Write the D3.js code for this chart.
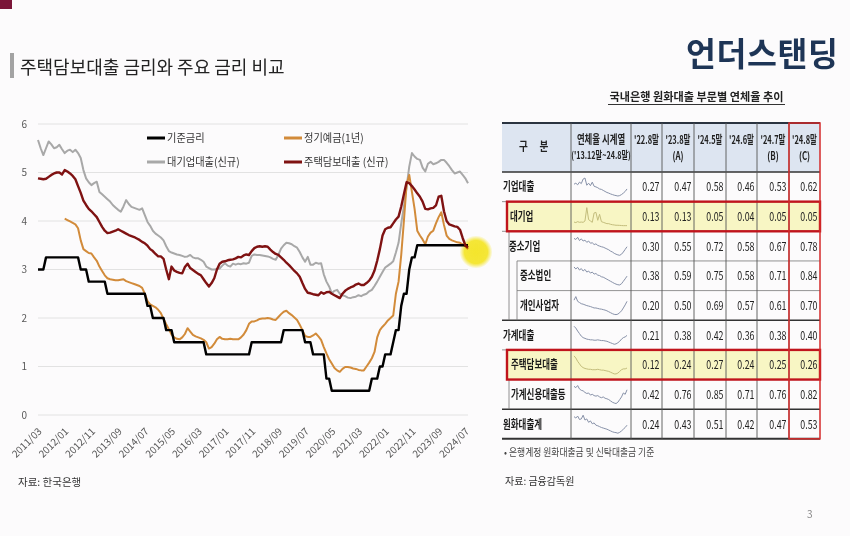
<!DOCTYPE html>
<html><head><meta charset="utf-8">
<script src="https://cdn.jsdelivr.net/npm/d3@7"></script>
<style>
html,body{margin:0;padding:0;background:#fcfbfc;}
svg{display:block;font-family:"Noto Sans CJK KR","Noto Sans",sans-serif;}
</style></head><body>
<svg id="c" width="850" height="536"></svg>
<script>
// ---------------- DATA ----------------
const months = [];
for (let yr = 2011; yr <= 2024; yr++) for (let m = 1; m <= 12; m++) {
  if (yr === 2011 && m < 3) continue;
  if (yr === 2024 && m > 8) break;
  months.push(yr + "/" + String(m).padStart(2, "0"));
}
const xTickLabels = ["2011/03","2012/01","2012/11","2013/09","2014/07","2015/05","2016/03","2017/01","2017/11","2018/09","2019/07","2020/05","2021/03","2022/01","2022/11","2023/09","2024/07"];
const yTicks = [0,1,2,3,4,5,6];
const seriesNames = ["기준금리","정기예금(1년)","대기업대출(신규)","주택담보대출 (신규)"];

const baseRate = [3.00,3.00,3.00,3.25,3.25,3.25,3.25,3.25,3.25,3.25,
 3.25,3.25,3.25,3.25,3.25,3.25,3.00,3.00,3.00,2.75,
 2.75,2.75,2.75,2.75,2.75,2.75,2.50,2.50,2.50,2.50,
 2.50,2.50,2.50,2.50,2.50,2.50,2.50,2.50,2.50,2.50,
 2.50,2.25,2.25,2.00,2.00,2.00,2.00,2.00,1.75,1.75,
 1.75,1.50,1.50,1.50,1.50,1.50,1.50,1.50,1.50,1.50,
 1.50,1.50,1.50,1.25,1.25,1.25,1.25,1.25,1.25,1.25,
 1.25,1.25,1.25,1.25,1.25,1.25,1.25,1.25,1.25,1.25,
 1.50,1.50,1.50,1.50,1.50,1.50,1.50,1.50,1.50,1.50,
 1.50,1.50,1.75,1.75,1.75,1.75,1.75,1.75,1.75,1.75,
 1.50,1.50,1.50,1.25,1.25,1.25,1.25,1.25,0.75,0.75,
 0.50,0.50,0.50,0.50,0.50,0.50,0.50,0.50,0.50,0.50,
 0.50,0.50,0.50,0.50,0.50,0.75,0.75,0.75,1.00,1.00,
 1.25,1.25,1.25,1.50,1.75,1.75,2.25,2.50,2.50,3.00,
 3.25,3.25,3.50,3.50,3.50,3.50,3.50,3.50,3.50,3.50,
 3.50,3.50,3.50,3.50,3.50,3.50,3.50,3.50,3.50,3.50,
 3.50,3.50];

const deposit1y = [null,null,null,null,null,null,null,null,null,null,
 4.05,4.02,3.99,3.96,3.93,3.85,3.6,3.42,3.38,3.34,
 3.33,3.25,3.18,3.06,2.97,2.88,2.82,2.8,2.79,2.78,
 2.78,2.79,2.8,2.76,2.74,2.72,2.7,2.68,2.66,2.62,
 2.5,2.35,2.28,2.25,2.22,2.17,2.1,1.98,1.87,1.77,
 1.66,1.6,1.57,1.56,1.6,1.67,1.79,1.72,1.65,1.62,
 1.6,1.58,1.55,1.5,1.37,1.4,1.47,1.56,1.61,1.57,
 1.56,1.56,1.57,1.56,1.56,1.56,1.6,1.66,1.75,1.88,
 1.93,1.93,1.95,1.98,1.99,1.99,2.0,1.99,1.97,1.96,
 2.02,2.08,2.13,2.15,2.1,2.06,2.01,1.96,1.86,1.75,
 1.63,1.61,1.61,1.64,1.68,1.62,1.55,1.4,1.27,1.15,
 1.06,0.97,0.92,0.89,0.95,0.99,0.99,0.98,0.96,0.95,
 0.93,0.92,0.92,1.0,1.08,1.17,1.3,1.6,1.75,1.82,
 1.88,1.95,2.0,2.05,2.5,2.75,3.3,4.0,4.75,4.95,
 4.6,4.25,3.8,3.7,3.62,3.52,3.68,3.76,3.8,3.95,
 4.08,4.18,3.92,3.7,3.63,3.6,3.58,3.56,3.55,3.52,
 3.48,3.42];

const largeCorpLoan = [5.67,5.5,5.36,5.5,5.64,5.58,5.5,5.52,5.57,5.48,
 5.4,5.45,5.47,5.42,5.47,5.4,5.3,5.05,4.88,4.8,
 4.74,4.78,4.81,4.6,4.55,4.5,4.45,4.4,4.33,4.28,
 4.23,4.19,4.3,4.43,4.35,4.29,4.27,4.25,4.23,4.26,
 4.12,3.98,3.9,3.8,3.74,3.7,3.66,3.6,3.48,3.38,
 3.35,3.33,3.31,3.3,3.28,3.26,3.27,3.3,3.25,3.23,
 3.23,3.2,3.16,3.06,3.03,3.0,3.0,3.01,3.02,3.08,
 3.13,3.08,3.06,3.12,3.1,3.12,3.11,3.13,3.12,3.14,
 3.28,3.31,3.3,3.3,3.29,3.28,3.27,3.25,3.22,3.2,
 3.3,3.43,3.5,3.55,3.54,3.52,3.48,3.45,3.36,3.25,
 3.16,3.26,3.1,3.1,3.14,3.12,3.13,2.9,2.75,2.65,
 2.51,2.56,2.58,2.5,2.47,2.45,2.42,2.41,2.43,2.44,
 2.47,2.45,2.48,2.5,2.55,2.58,2.66,2.75,2.85,2.95,
 3.04,3.08,3.12,3.17,3.35,3.55,3.95,4.3,4.7,5.12,
 5.4,5.33,5.28,5.26,5.1,5.02,5.18,5.22,5.17,5.19,
 5.22,5.26,5.26,5.2,5.13,5.05,4.98,5.0,5.02,4.95,
 4.88,4.78];

const mortgageLoan = [4.88,4.87,4.86,4.87,4.91,4.95,4.98,5.0,5.0,4.96,
 5.05,5.02,4.98,4.93,4.86,4.72,4.58,4.42,4.33,4.25,
 4.2,4.14,4.08,3.98,3.88,3.8,3.75,3.76,3.78,3.8,
 3.83,3.8,3.77,3.74,3.71,3.69,3.67,3.64,3.61,3.57,
 3.54,3.49,3.42,3.38,3.32,3.27,3.27,3.22,3.0,2.8,
 3.06,2.98,2.95,2.93,2.92,3.05,3.12,3.03,2.99,2.95,
 2.91,2.88,2.8,2.72,2.65,2.72,2.82,3.0,3.12,3.16,
 3.17,3.19,3.2,3.21,3.23,3.26,3.25,3.29,3.31,3.3,
 3.38,3.44,3.47,3.48,3.47,3.48,3.47,3.41,3.36,3.32,
 3.3,3.25,3.2,3.14,3.09,3.03,2.97,2.92,2.85,2.72,
 2.6,2.52,2.51,2.49,2.48,2.47,2.53,2.5,2.53,2.54,
 2.5,2.47,2.44,2.41,2.5,2.56,2.6,2.63,2.65,2.69,
 2.71,2.68,2.68,2.72,2.77,2.85,2.98,3.18,3.42,3.7,
 3.83,3.86,3.87,3.95,4.03,4.09,4.3,4.55,4.8,4.78,
 4.72,4.65,4.57,4.5,4.4,4.25,4.24,4.26,4.27,4.32,
 4.5,4.52,4.2,4.0,3.93,3.91,3.89,3.88,3.82,3.65,
 3.5,3.45];

// table data
const tableRows = ["기업대출","대기업","중소기업","중소법인","개인사업자","가계대출","주택담보대출","가계신용대출등","원화대출계"];
const periods = ["'22.8말","'23.8말","'24.5말","'24.6말","'24.7말","'24.8말"];
const periodTags = ["","(A)","","","(B)","(C)"];
const v22_8 = [0.27,0.13,0.30,0.38,0.20,0.21,0.12,0.42,0.24];
const v23_8 = [0.47,0.13,0.55,0.59,0.50,0.38,0.24,0.76,0.43];
const v24_5 = [0.58,0.05,0.72,0.75,0.69,0.42,0.27,0.85,0.51];
const v24_6 = [0.46,0.04,0.58,0.58,0.57,0.36,0.24,0.71,0.42];
const v24_7 = [0.53,0.05,0.67,0.71,0.61,0.38,0.25,0.76,0.47];
const v24_8 = [0.62,0.05,0.78,0.84,0.70,0.40,0.26,0.82,0.53];
const highlightRows = ["대기업","주택담보대출"];

// sparkline data (delinquency series '13.12~'24.8, sampled)
const sparkCorp   = [0.85,0.9,0.82,0.95,0.88,1.1,1.15,0.8,0.9,0.78,0.95,0.75,0.72,0.68,0.62,0.6,0.55,0.5,0.45,0.42,0.38,0.35,0.32,0.3,0.28,0.3,0.35,0.42,0.5,0.62];
const sparkLarge  = [0.32,0.28,0.35,0.3,0.32,0.3,0.4,1.4,0.5,0.4,0.3,1.0,1.05,0.45,0.9,0.35,0.3,0.25,0.2,0.2,0.15,0.12,0.1,0.08,0.08,0.07,0.06,0.05,0.05,0.05];
const sparkSME    = [1.1,1.05,1.15,1.0,1.08,0.98,1.02,0.92,0.98,0.88,0.9,0.82,0.85,0.78,0.75,0.72,0.7,0.66,0.62,0.58,0.52,0.48,0.42,0.38,0.35,0.33,0.38,0.48,0.6,0.72];
const sparkSMEC   = [1.2,1.1,1.18,1.05,1.12,1.0,1.08,0.95,1.0,0.9,0.95,0.85,0.88,0.8,0.78,0.72,0.7,0.65,0.6,0.55,0.5,0.45,0.4,0.36,0.33,0.32,0.38,0.5,0.62,0.75];
const sparkSole   = [0.75,0.9,0.7,0.65,0.6,0.58,0.55,0.52,0.5,0.48,0.45,0.42,0.42,0.4,0.38,0.37,0.35,0.33,0.3,0.26,0.22,0.18,0.15,0.14,0.16,0.22,0.3,0.42,0.55,0.7];
const sparkHH     = [0.65,0.6,0.52,0.45,0.38,0.34,0.32,0.3,0.29,0.28,0.28,0.27,0.27,0.28,0.27,0.26,0.26,0.25,0.24,0.22,0.2,0.18,0.16,0.17,0.2,0.24,0.3,0.34,0.36,0.4];
const sparkMort   = [0.55,0.5,0.42,0.36,0.3,0.27,0.25,0.24,0.23,0.23,0.22,0.22,0.22,0.23,0.22,0.21,0.21,0.2,0.19,0.18,0.16,0.14,0.12,0.12,0.14,0.18,0.22,0.24,0.24,0.26];
const sparkCredit = [0.95,0.9,0.98,0.85,0.8,0.78,0.72,0.68,0.7,0.62,0.65,0.6,0.58,0.6,0.55,0.52,0.55,0.5,0.48,0.45,0.4,0.35,0.32,0.3,0.35,0.45,0.55,0.7,0.65,0.82];
const sparkTotal  = [0.8,0.75,0.82,0.7,0.72,0.85,0.68,0.72,0.6,0.65,0.55,0.58,0.5,0.48,0.45,0.42,0.4,0.38,0.36,0.33,0.3,0.27,0.25,0.24,0.22,0.25,0.3,0.36,0.42,0.5];

// ---------------- DRAW ----------------
const svg = d3.select("#c");
function txt(g, str, x, y, o = {}) {
  const t = g.append("text")
    .attr("transform", `translate(${x},${y}) scale(${o.sx || 1},1)`)
    .attr("text-anchor", o.anchor || "start")
    .attr("font-size", o.size || 11)
    .attr("font-weight", o.weight || 400)
    .attr("fill", o.fill || "#222")
    .text(str);
  if (o.ls) t.attr("letter-spacing", o.ls);
  return t;
}

// slide decorations
svg.append("rect").attr("x",0).attr("y",0).attr("width",12).attr("height",9).attr("fill","#7b1538");
svg.append("rect").attr("x",10).attr("y",53).attr("width",4).attr("height",25).attr("fill","#a3a3a3");
txt(svg, "주택담보대출 금리와 주요 금리 비교", 20, 74, {size:18, fill:"#222"});
txt(svg, "언더스탠딩", 686, 66, {size:32.5, weight:700, fill:"#1e3556", ls:0.6});
txt(svg, "3", 807, 518, {size:10, fill:"#888"});

// ---- line chart ----
const x = d3.scalePoint().domain(months).range([38, 468]);
const y = d3.scaleLinear().domain([0, 6]).range([415, 124]);

const chart = svg.append("g");
chart.append("g").selectAll("line").data(yTicks).join("line")
  .attr("x1", 38).attr("x2", 468)
  .attr("y1", d => y(d)).attr("y2", d => y(d))
  .attr("stroke", "#e2e2e2").attr("stroke-width", 1);

const yAxis = chart.append("g").attr("transform", "translate(30,0)")
  .call(d3.axisLeft(y).tickValues(yTicks).tickSize(0).tickPadding(3).tickFormat(d3.format("d")));
yAxis.select(".domain").remove();
yAxis.selectAll("text").attr("font-size", 10).attr("fill", "#595959").attr("font-family", "'Noto Sans CJK KR',sans-serif");

const xAxis = chart.append("g").attr("transform", "translate(0,415)")
  .call(d3.axisBottom(x).tickValues(xTickLabels).tickSize(0));
xAxis.select(".domain").remove();
xAxis.selectAll("text")
  .attr("x", 0).attr("y", 0).attr("dy", 0)
  .attr("transform", "translate(4,17) rotate(-45)")
  .attr("text-anchor", "end")
  .attr("font-size", 10).attr("fill", "#595959")
  .attr("font-family", "'Noto Sans CJK KR',sans-serif");

const lineGen = d3.line().defined(d => d != null)
  .x((d, i) => x(months[i])).y(d => y(d));
const seriesData = [baseRate, deposit1y, largeCorpLoan, mortgageLoan];
const seriesColors = ["#000000", "#d28b3a", "#a8a8a8", "#7f1212"];
const seriesWidths = [2.4, 2, 2, 2.4];
const drawOrder = [2, 1, 0, 3];
drawOrder.forEach(k => {
  chart.append("path").datum(seriesData[k])
    .attr("d", lineGen).attr("fill", "none")
    .attr("stroke", seriesColors[k]).attr("stroke-width", seriesWidths[k])
    .attr("stroke-linejoin", "round");
});

// legend
const legPos = [[147, 138], [284, 138], [147, 162], [284, 162]];
seriesNames.forEach((n, k) => {
  const [lx, ly] = legPos[k];
  chart.append("line").attr("x1", lx).attr("x2", lx + 18).attr("y1", ly).attr("y2", ly)
    .attr("stroke", seriesColors[k]).attr("stroke-width", 3);
  txt(chart, n, lx + 20, ly + 4, {size: 11, fill: "#333", sx: 0.93});
});

// highlight
const defs = svg.append("defs");
const rg = defs.append("radialGradient").attr("id", "hl");
rg.append("stop").attr("offset", "0%").attr("stop-color", "#f7e92c").attr("stop-opacity", 1);
rg.append("stop").attr("offset", "70%").attr("stop-color", "#f7e92c").attr("stop-opacity", 0.95);
rg.append("stop").attr("offset", "100%").attr("stop-color", "#f7e92c").attr("stop-opacity", 0);
svg.append("circle").attr("cx", 476).attr("cy", 252).attr("r", 16.5)
  .attr("fill", "url(#hl)").style("mix-blend-mode", "multiply");

txt(svg, "자료: 한국은행", 18, 486, {size: 10.5, fill: "#333"});

// ---- table ----
const tb = svg.append("g");
const colX = [502, 571, 631, 662, 694, 726, 757, 789, 820];
const tTop = 123, hBot = 172, rowH = 29.65;
const rowTop = r => hBot + r * rowH;
const tBot = rowTop(tableRows.length);

txt(tb, "국내은행 원화대출 부문별 연체율 추이", 696.5, 101, {size: 11.5, weight: 700, anchor: "middle", sx: 0.97, fill: "#222"});
tb.append("line").attr("x1", 608).attr("x2", 785).attr("y1", 104.5).attr("y2", 104.5).attr("stroke", "#333").attr("stroke-width", 1);

// header background
tb.append("rect").attr("x", colX[0]).attr("y", tTop).attr("width", colX[8] - colX[0]).attr("height", hBot - tTop).attr("fill", "#dde5f1");
// highlighted rows
highlightRows.forEach(name => {
  const r = tableRows.indexOf(name);
  tb.append("rect").attr("x", 507).attr("y", rowTop(r)).attr("width", colX[8] - 507).attr("height", rowH).attr("fill", "#f8f6c4");
});

// horizontal lines
const hLines = [
  [1, 502, 0.8, "#777"], [2, 502, 0.8, "#777"], [3, 517, 0.8, "#777"], [4, 517, 0.8, "#777"],
  [5, 502, 1.5, "#333"], [6, 502, 0.8, "#777"], [7, 509, 0.8, "#777"], [8, 502, 1.5, "#333"]
];
hLines.forEach(([r, x1, w, c]) => {
  tb.append("line").attr("x1", x1).attr("x2", colX[8]).attr("y1", rowTop(r)).attr("y2", rowTop(r)).attr("stroke", c).attr("stroke-width", w);
});
tb.append("line").attr("x1", colX[0]).attr("x2", colX[8]).attr("y1", tTop).attr("y2", tTop).attr("stroke", "#2a3340").attr("stroke-width", 2);
tb.append("line").attr("x1", colX[0]).attr("x2", colX[8]).attr("y1", hBot).attr("y2", hBot).attr("stroke", "#333").attr("stroke-width", 1.5);
tb.append("line").attr("x1", colX[0]).attr("x2", colX[8]).attr("y1", tBot).attr("y2", tBot).attr("stroke", "#333").attr("stroke-width", 2);
// vertical lines
colX.slice(1, 8).forEach(cx => {
  tb.append("line").attr("x1", cx).attr("x2", cx).attr("y1", tTop).attr("y2", tBot).attr("stroke", "#555").attr("stroke-width", 0.9);
});
[[509, 2, 5], [517, 3, 5], [509, 7, 8]].forEach(([vx, r1, r2]) => {
  tb.append("line").attr("x1", vx).attr("x2", vx).attr("y1", rowTop(r1)).attr("y2", rowTop(r2)).attr("stroke", "#777").attr("stroke-width", 0.8);
});

// header text
txt(tb, "구 분", 536, 151, {size: 12, weight: 700, anchor: "middle", sx: 0.8, ls: 6});
txt(tb, "연체율 시계열", 601, 144, {size: 12, weight: 700, anchor: "middle", sx: 0.7});
txt(tb, "('13.12말~24.8말)", 601, 159, {size: 10, weight: 700, anchor: "middle", sx: 0.72});
periods.forEach((p, j) => {
  const cx = (colX[j + 2] + colX[j + 3]) / 2;
  txt(tb, p, cx, 144, {size: 11, weight: 700, anchor: "middle", sx: 0.68});
  if (periodTags[j]) txt(tb, periodTags[j], cx, 159.5, {size: 11, weight: 700, anchor: "middle", sx: 0.72});
});

// row labels & values
const labelX = [503, 510, 509, 520, 520, 503, 511, 511, 503];
const valueCols = [v22_8, v23_8, v24_5, v24_6, v24_7, v24_8];
tableRows.forEach((name, r) => {
  const ty = rowTop(r) + rowH / 2 + 4.5;
  txt(tb, name, labelX[r], ty, {size: 12.5, weight: 700, sx: 0.68, fill: "#1a1a1a"});
  valueCols.forEach((col, j) => {
    txt(tb, col[r].toFixed(2), colX[j + 3] - 2.5, ty, {size: 12, anchor: "end", sx: 0.74, fill: "#222"});
  });
});

// sparklines
const sparks = [sparkCorp, sparkLarge, sparkSME, sparkSMEC, sparkSole, sparkHH, sparkMort, sparkCredit, sparkTotal];
sparks.forEach((s, r) => {
  const sx = d3.scaleLinear().domain([0, s.length - 1]).range([574, 627]);
  const ext = d3.extent(s);
  const sy = d3.scaleLinear().domain(ext).range([rowTop(r) + 24, rowTop(r) + 6]);
  const hl = highlightRows.includes(tableRows[r]);
  tb.append("path").datum(s)
    .attr("d", d3.line().x((d, i) => sx(i)).y(d => sy(d)))
    .attr("fill", "none").attr("stroke", hl ? "#c3bd7c" : "#8791a8").attr("stroke-width", 1);
});

// red boxes
highlightRows.forEach(name => {
  const r = tableRows.indexOf(name);
  tb.append("rect").attr("x", 507).attr("y", rowTop(r)).attr("width", colX[8] - 507).attr("height", rowH)
    .attr("fill", "none").attr("stroke", "#c0141c").attr("stroke-width", 2.4);
});
tb.append("rect").attr("x", colX[7]).attr("y", tTop).attr("width", colX[8] - colX[7]).attr("height", tBot - tTop)
  .attr("fill", "none").attr("stroke", "#d42a2a").attr("stroke-width", 1.5);

txt(tb, "• 은행계정 원화대출금 및 신탁대출금 기준", 504, 456, {size: 10, fill: "#444", sx: 0.88});
txt(tb, "자료: 금융감독원", 505, 485, {size: 10, fill: "#333"});
</script>
</body></html>
